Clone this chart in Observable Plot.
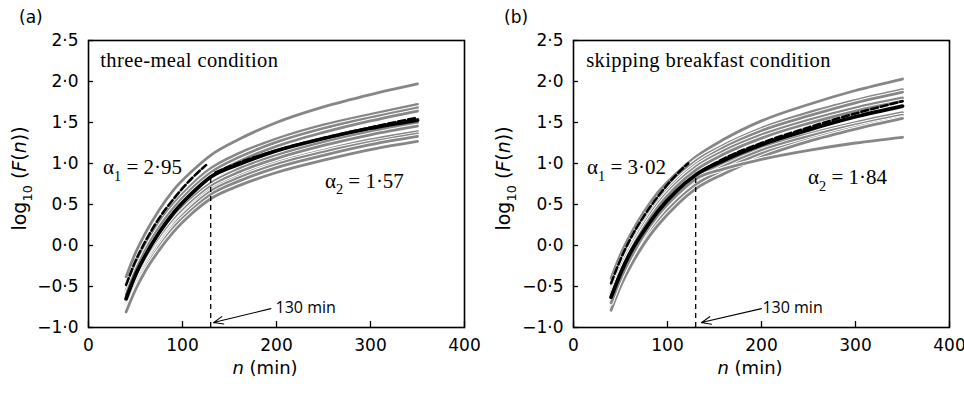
<!DOCTYPE html>
<html><head><meta charset="utf-8">
<script src="https://cdn.jsdelivr.net/npm/d3@7"></script>
<script src="https://cdn.jsdelivr.net/npm/@observablehq/plot@0.6"></script>
<style>
body{margin:0;background:#fff;}
#wrap{display:flex;width:964px;height:393px;overflow:hidden;}
</style></head><body><div id="wrap"></div>
<script>
// ---- data ----
const nGrid = [40,50,60,75,90,110,130,160,200,250,300,350];
const grayA = [
 [-0.38,-0.09,0.14,0.43,0.67,0.905,1.10,1.295,1.50,1.69,1.84,1.97],
 [-0.55,-0.26,-0.02,0.27,0.50,0.745,0.94,1.125,1.30,1.47,1.60,1.72],
 [-0.60,-0.31,-0.07,0.22,0.45,0.695,0.89,1.075,1.26,1.43,1.56,1.68],
 [-0.68,-0.39,-0.14,0.15,0.39,0.645,0.84,1.025,1.21,1.38,1.52,1.64],
 [-0.70,-0.42,-0.18,0.10,0.33,0.575,0.76,0.935,1.10,1.26,1.39,1.50],
 [-0.72,-0.44,-0.21,0.07,0.30,0.535,0.72,0.895,1.06,1.22,1.35,1.455],
 [-0.75,-0.47,-0.24,0.03,0.26,0.495,0.68,0.845,1.01,1.16,1.29,1.39],
 [-0.77,-0.49,-0.26,0.01,0.24,0.475,0.66,0.825,0.99,1.14,1.26,1.36],
 [-0.79,-0.52,-0.29,-0.02,0.21,0.435,0.62,0.785,0.95,1.10,1.23,1.33],
 [-0.81,-0.54,-0.32,-0.06,0.16,0.39,0.57,0.73,0.89,1.04,1.17,1.27]
];
const meanA = [-0.65,-0.36,-0.13,0.155,0.39,0.635,0.835,0.99,1.155,1.305,1.43,1.53];
const fitEarlyNA = [40,50,60,75,90,110,125];
const fitEarlyA = [-0.48,-0.19,0.04,0.33,0.56,0.82,0.98];
const fitLateNA = [135,160,200,250,300,350];
const fitLateA = [0.89,1.01,1.16,1.31,1.44,1.56];

const grayB = [
 [-0.40,-0.11,0.12,0.41,0.65,0.885,1.08,1.295,1.52,1.72,1.89,2.03],
 [-0.50,-0.20,0.04,0.34,0.58,0.835,1.03,1.225,1.43,1.62,1.77,1.90],
 [-0.55,-0.25,-0.01,0.29,0.54,0.795,0.99,1.195,1.40,1.58,1.74,1.87],
 [-0.58,-0.28,-0.04,0.26,0.51,0.765,0.96,1.155,1.35,1.53,1.68,1.80],
 [-0.62,-0.32,-0.08,0.22,0.47,0.725,0.92,1.115,1.31,1.49,1.64,1.76],
 [-0.68,-0.39,-0.15,0.14,0.38,0.625,0.82,1.005,1.19,1.36,1.50,1.62],
 [-0.72,-0.43,-0.19,0.10,0.34,0.585,0.78,0.965,1.16,1.33,1.47,1.59],
 [-0.75,-0.46,-0.22,0.07,0.30,0.545,0.74,0.925,1.12,1.29,1.44,1.56],
 [-0.79,-0.50,-0.27,0.02,0.25,0.495,0.69,0.875,1.08,1.27,1.42,1.55],
 [-0.70,-0.41,-0.17,0.13,0.37,0.615,0.81,0.935,1.05,1.16,1.25,1.32]
];
const meanB = [-0.63,-0.34,-0.10,0.18,0.42,0.67,0.86,1.04,1.23,1.41,1.57,1.70];
const fitEarlyNB = [40,50,60,75,90,110,122];
const fitEarlyB = [-0.46,-0.17,0.07,0.36,0.60,0.87,1.00];
const fitLateNB = [137,160,200,250,300,350];
const fitLateB = [0.915,1.06,1.25,1.44,1.61,1.76];

const xTicks = [0,100,200,300,400];
const yTicks = [-1,-0.5,0,0.5,1,1.5,2,2.5];
const panelLabels = ["(a)","(b)"];
const conditions = ["three-meal condition","skipping breakfast condition"];
const alpha1 = ["2·95","3·02"];
const alpha2 = ["1·57","1·84"];
const crossover = 130;
const crossoverLabel = "130 min";

// ---- drawing ----
const fmt = d => (d < 0 ? "\u2212" : "") + Math.abs(d).toFixed(1).replace(".", "\u00b7");
const pts = (ns, vs) => ns.map((n, i) => ({n, v: vs[i]}));

function richText(svg, {x, y, rotate = 0, anchor = "start", family, size, spacing = 0, parts}) {
  const t = d3.select(svg).append("text")
    .attr("transform", `translate(${x},${y}) rotate(${rotate})`)
    .attr("text-anchor", anchor).attr("font-family", family)
    .attr("font-size", size).attr("fill", "black");
  if (spacing) t.attr("letter-spacing", spacing);
  let shift = 0;
  for (const p of parts) {
    const ts = t.append("tspan").text(p.t);
    const target = p.sub ? size * 0.3 : 0;
    if (target !== shift) { ts.attr("dy", target - shift); shift = target; }
    if (p.sub) ts.attr("font-size", size * 0.68);
    if (p.italic) ts.attr("font-style", "italic");
  }
}

function panel(cfg) {
  const marks = [];
  cfg.gray.forEach(vals => {
    const d = pts(nGrid, vals);
    marks.push(Plot.line(d, {x: "n", y: "v", stroke: "white", strokeWidth: 4.8, curve: "monotone-x"}));
    marks.push(Plot.line(d, {x: "n", y: "v", stroke: "#878787", strokeWidth: 2.8, curve: "monotone-x"}));
  });
  marks.push(Plot.line(pts(nGrid, cfg.mean), {x: "n", y: "v", stroke: "black", strokeWidth: 3.8, curve: "monotone-x"}));
  marks.push(Plot.line(pts(cfg.e1n, cfg.e1), {x: "n", y: "v", stroke: "black", strokeWidth: 2.6, strokeDasharray: "7,3", curve: "monotone-x"}));
  marks.push(Plot.line(pts(cfg.l1n, cfg.l1), {x: "n", y: "v", stroke: "black", strokeWidth: 2.6, strokeDasharray: "7,3", curve: "monotone-x"}));
  marks.push(Plot.ruleX([crossover], {y1: -1, y2: cfg.vTop, stroke: "black", strokeWidth: 1.3, strokeDasharray: "5,4"}));
  marks.push(Plot.arrow([crossover], {x1: cfg.arrowFrom[0], y1: cfg.arrowFrom[1], x2: cfg.arrowTo[0], y2: cfg.arrowTo[1], stroke: "black", strokeWidth: 1.1, headLength: 14, headAngle: 44}));
  marks.push(Plot.text([crossoverLabel], {x: cfg.lblPos[0], y: cfg.lblPos[1], text: d => d, textAnchor: "start", lineAnchor: "bottom", fontFamily: "Open Sans", fontSize: 16}));
  marks.push(Plot.frame({stroke: "black", strokeWidth: 1.6}));
  marks.push(Plot.axisY(yTicks, {tickSize: 0, tickPadding: 10, tickFormat: fmt, label: null, fontSize: 17}));
  marks.push(Plot.axisY(yTicks, {tickSize: -5, text: null, label: null, strokeWidth: 1.3}));
  marks.push(Plot.axisX(xTicks, {tickSize: 0, tickPadding: 11, label: null, fontSize: 17}));
  marks.push(Plot.axisX(xTicks, {tickSize: -6, text: null, label: null, strokeWidth: 1.3}));

  const chart = Plot.plot({
    width: 482, height: 393,
    marginLeft: cfg.ml, marginRight: cfg.mr, marginTop: 40, marginBottom: 66,
    x: {domain: [0, 400]},
    y: {domain: [-1, 2.5]},
    style: {fontFamily: "DejaVu Sans", fontSize: "17px", background: "white", color: "black"},
    marks
  });
  const xs = chart.scale("x"), ys = chart.scale("y");
  richText(chart, {x: cfg.tagX, y: 23, family: "DejaVu Sans", size: 17, parts: [{t: cfg.tag}]});
  richText(chart, {x: xs.apply(cfg.condPos[0]), y: ys.apply(cfg.condPos[1]), family: "Liberation Serif", size: 20.5, spacing: 0.4,
    parts: [{t: cfg.cond}]});
  richText(chart, {x: xs.apply(cfg.a1Pos[0]), y: ys.apply(cfg.a1Pos[1]), family: "Liberation Serif", size: 21,
    parts: [{t: "\u03b1"}, {t: "1", sub: true}, {t: " = " + cfg.a1}]});
  richText(chart, {x: xs.apply(cfg.a2Pos[0]), y: ys.apply(cfg.a2Pos[1]), family: "Liberation Serif", size: 21,
    parts: [{t: "\u03b1"}, {t: "2", sub: true}, {t: " = " + cfg.a2}]});
  const cx = (cfg.ml + 482 - cfg.mr) / 2 - 11;
  richText(chart, {x: cx, y: 374, anchor: "middle", family: "DejaVu Sans", size: 18,
    parts: [{t: "n", italic: true}, {t: " (min)"}]});
  const cy = (40 + 393 - 66) / 2 - 5;
  richText(chart, {x: cfg.ylX, y: cy, rotate: -90, anchor: "middle", family: "DejaVu Sans", size: 19,
    parts: [{t: "log"}, {t: "10", sub: true}, {t: " ("}, {t: "F", italic: true}, {t: "("}, {t: "n", italic: true}, {t: "))"}]});
  return chart;
}

const wrap = document.getElementById("wrap");
wrap.appendChild(panel({
  gray: grayA, mean: meanA, e1n: fitEarlyNA, e1: fitEarlyA, l1n: fitLateNA, l1: fitLateA,
  ml: 88, mr: 18, vTop: 0.85, arrowFrom: [194, -0.77], arrowTo: [133, -0.94], lblPos: [199, -0.82],
  cond: conditions[0], condPos: [13, 2.17], tag: panelLabels[0], tagX: 19,
  a1: alpha1[0], a1Pos: [16, 0.86], a2: alpha2[0], a2Pos: [252, 0.70], ylX: 26
}));
wrap.appendChild(panel({
  gray: grayB, mean: meanB, e1n: fitEarlyNB, e1: fitEarlyB, l1n: fitLateNB, l1: fitLateB,
  ml: 91, mr: 15, vTop: 0.88, arrowFrom: [200, -0.77], arrowTo: [136, -0.94], lblPos: [201, -0.82],
  cond: conditions[1], condPos: [14, 2.17], tag: panelLabels[1], tagX: 22,
  a1: alpha1[1], a1Pos: [15, 0.86], a2: alpha2[1], a2Pos: [250, 0.74], ylX: 28
}));
</script></body></html>
